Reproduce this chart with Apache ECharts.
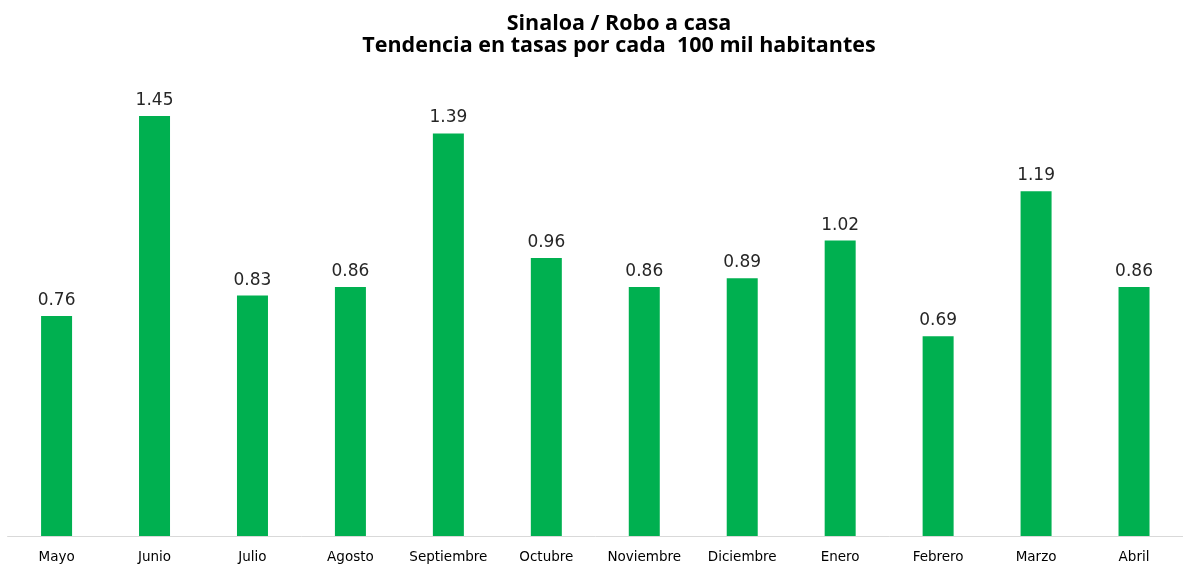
<!DOCTYPE html>
<html>
<head>
<meta charset="utf-8">
<script src="https://cdn.jsdelivr.net/npm/echarts@6/dist/echarts.min.js"></script>
<style>html,body{margin:0;padding:0;background:#fff;}#c{width:1183px;height:565px;}</style>
</head>
<body>
<div id="c"></div>
<script>
const categories = ["Mayo","Junio","Julio","Agosto","Septiembre","Octubre","Noviembre","Diciembre","Enero","Febrero","Marzo","Abril"];
const values = [0.76,1.45,0.83,0.86,1.39,0.96,0.86,0.89,1.02,0.69,1.19,0.86];
const titleLine1 = "Sinaloa / Robo a casa";
const titleLine2 = "Tendencia en tasas por cada  100 mil habitantes";

const chart = echarts.init(document.getElementById('c'));
chart.setOption({
  backgroundColor: '#ffffff',
  title: [
    {text: titleLine1, left: 614, top: 8, textAlign: 'center',
     textStyle: {fontFamily: 'Open Sans', fontWeight: 'bold', fontSize: 21.5, color: '#000'}},
    {text: titleLine2, left: 614, top: 30, textAlign: 'center',
     textStyle: {fontFamily: 'Open Sans', fontWeight: 'bold', fontSize: 21.5, color: '#000'}}
  ],
  grid: {left: 7.6, width: 1180, top: 72.6, bottom: 29, containLabel: false},
  xAxis: {
    type: 'category', data: categories,
    axisLine: {lineStyle: {color: '#d9d9d9', width: 1}},
    axisTick: {show: false},
    axisLabel: {fontFamily: 'DejaVu Sans', fontSize: 13.5, color: '#000', margin: 14, interval: 0}
  },
  yAxis: {type: 'value', min: 0, max: 1.6, show: false, splitLine: {show: false}},
  series: [{
    type: 'bar', data: values, barWidth: 31,
    itemStyle: {color: '#00b050'},
    label: {show: true, position: 'top', distance: 7, fontFamily: 'DejaVu Sans', fontSize: 17, color: '#262626',
      formatter: p => p.value.toFixed(2)}
  }],
  animation: false
});
</script>
</body>
</html>
